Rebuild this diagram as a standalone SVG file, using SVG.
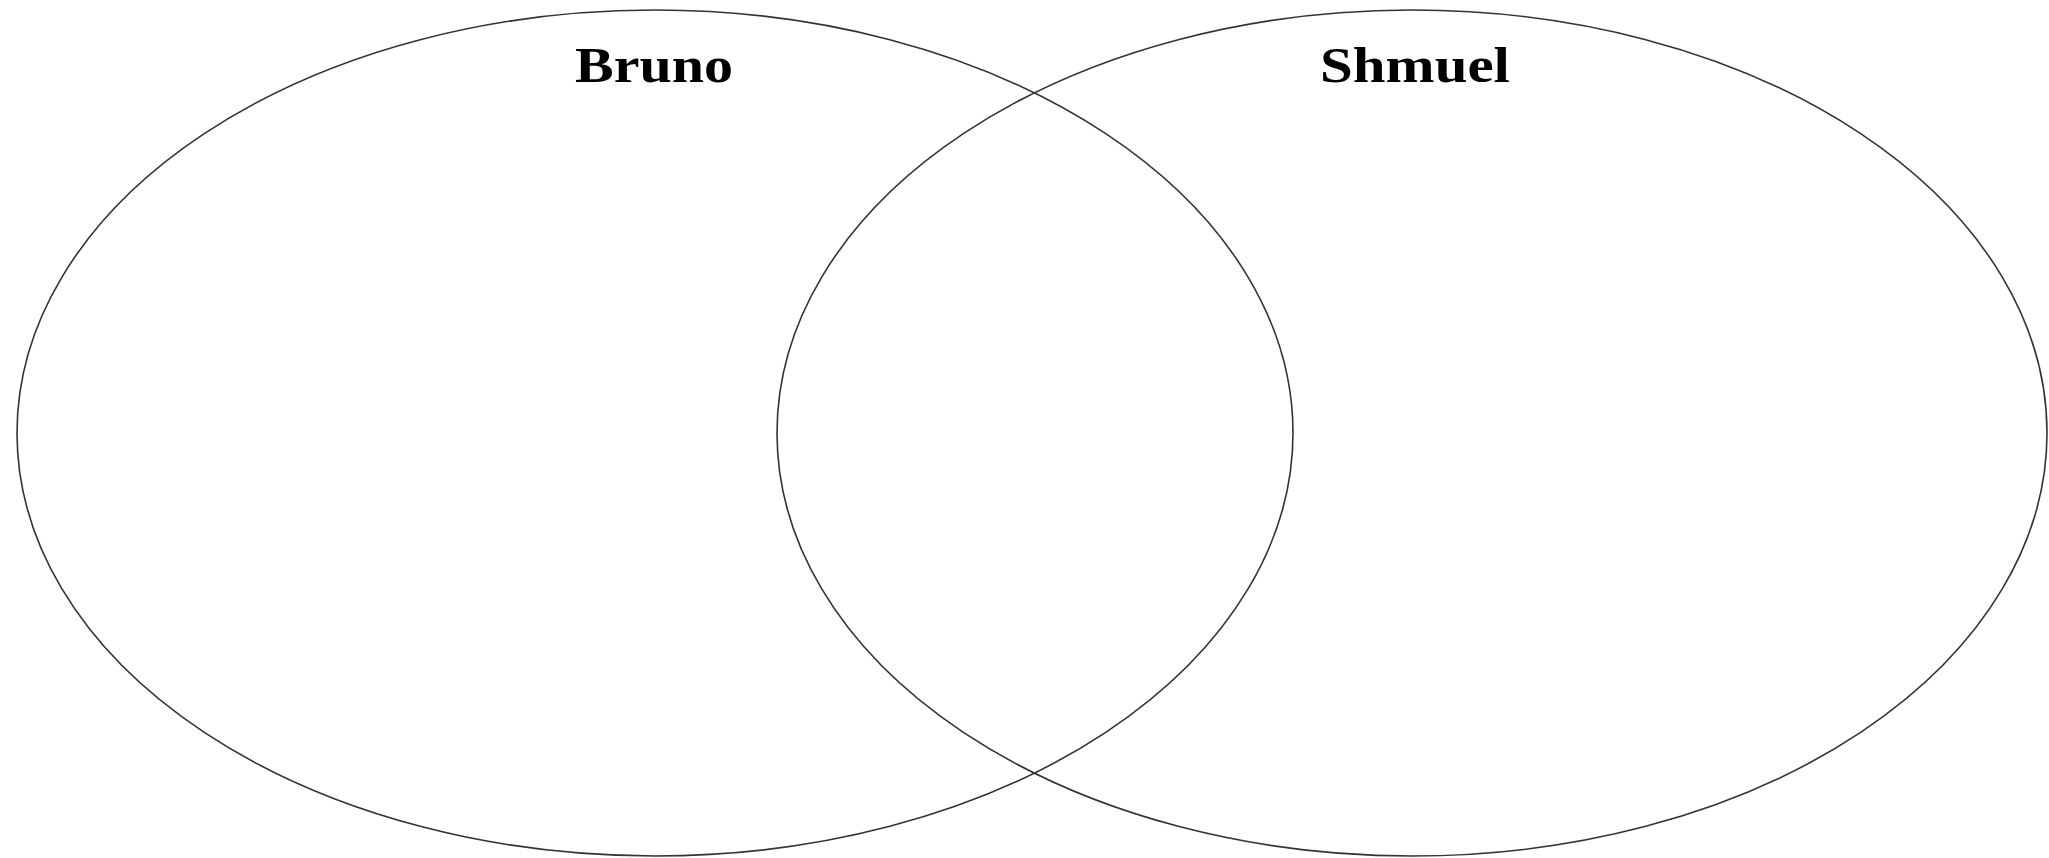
<svg xmlns="http://www.w3.org/2000/svg" width="2049" height="858" viewBox="0 0 2049 858">
<style>
.set{fill:none;stroke:#333;stroke-width:1.6}
.lbl{font-family:"Liberation Serif","DejaVu Serif",serif;font-weight:bold;font-size:50px;fill:#000}
</style>
<rect width="2049" height="858" fill="#fff"/>
<g id="bruno">
<ellipse class="set" cx="655" cy="433" rx="638" ry="423"/>
<text class="lbl" x="575" y="82" textLength="158" lengthAdjust="spacingAndGlyphs">Bruno</text>
</g>
<g id="shmuel">
<ellipse class="set" cx="1412" cy="433" rx="635" ry="423"/>
<text class="lbl" x="1320" y="82" textLength="190" lengthAdjust="spacingAndGlyphs">Shmuel</text>
</g>
<g id="connectors"></g>
</svg>
